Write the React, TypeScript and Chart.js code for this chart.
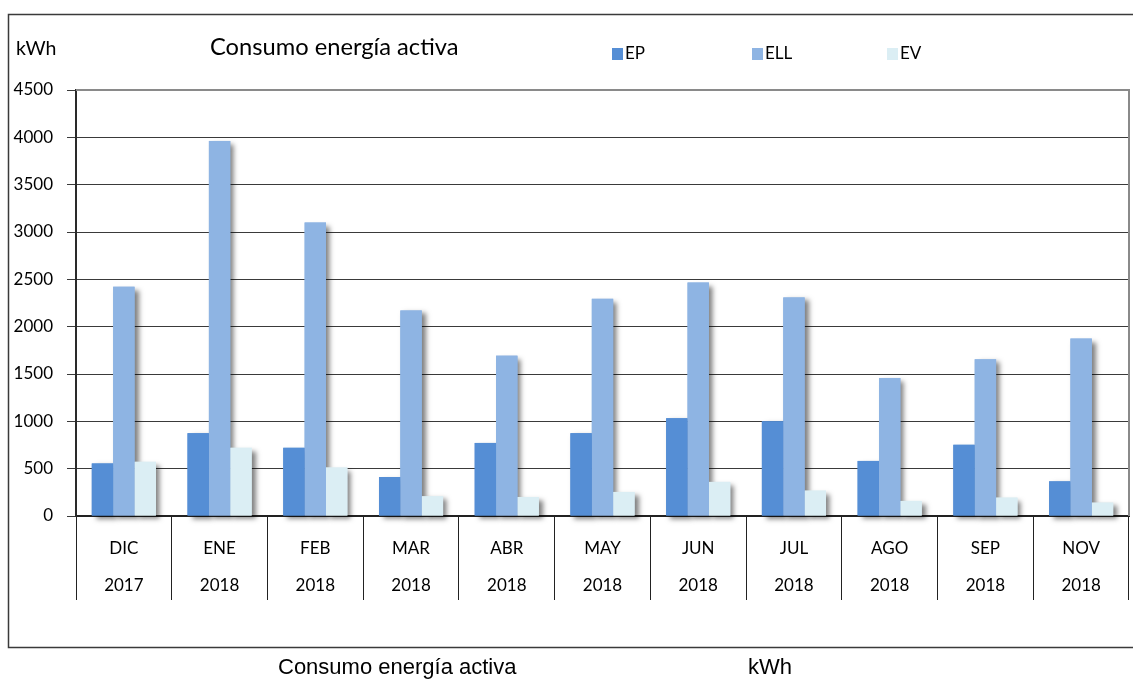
import React, { useEffect, useRef } from "react";
import { Chart, registerables } from "chart.js";

Chart.register(...registerables);

const months = ["DIC", "ENE", "FEB", "MAR", "ABR", "MAY", "JUN", "JUL", "AGO", "SEP", "NOV"];
const years = ["2017", "2018", "2018", "2018", "2018", "2018", "2018", "2018", "2018", "2018", "2018"];
const seriesNames = ["EP", "ELL", "EV"];
const epValues = [555, 875, 720, 412, 772, 875, 1033, 1000, 582, 752, 366];
const ellValues = [2422, 3962, 3100, 2171, 1694, 2294, 2466, 2309, 1458, 1655, 1874];
const evValues = [572, 720, 512, 208, 201, 254, 360, 268, 159, 194, 141];
const seriesColors = ["#558ED5", "#8EB4E3", "#DBEEF4"];
const yMax = 4500;
const yStep = 500;
const chartTitle = "Consumo energía activa";
const unitLabel = "kWh";

const CAL = "Lato, 'Noto Sans', sans-serif";

// Draw all bar shadows first, so that every bar lies above every shadow.
const shadowPlugin = {
  id: "barShadow",
  beforeDatasetsDraw(chart: any) {
    const ctx = chart.ctx;
    ctx.save();
    ctx.shadowColor = "rgba(0,0,0,0.5)";
    ctx.shadowOffsetX = 4;
    ctx.shadowOffsetY = 3;
    ctx.shadowBlur = 5;
    chart.data.datasets.forEach((ds: any, i: number) => {
      const meta = chart.getDatasetMeta(i);
      ctx.fillStyle = ds.backgroundColor;
      meta.data.forEach((el: any) => {
        const p = el.getProps(["x", "y", "base", "width"], true);
        ctx.fillRect(p.x - p.width / 2, p.y, p.width, p.base - p.y);
      });
    });
    ctx.restore();
  },
};

const decorPlugin = {
  id: "decor",
  beforeDraw(chart: any) {
    const ctx = chart.ctx;
    ctx.save();
    ctx.fillStyle = "#fff";
    ctx.fillRect(0, 0, chart.width, chart.height);
    ctx.strokeStyle = "#3a3a3a";
    ctx.lineWidth = 1.5;
    ctx.strokeRect(8.5, 14.5, 1140, 633);
    ctx.restore();
  },
  afterDraw(chart: any) {
    const ctx = chart.ctx;
    const ca = chart.chartArea;
    ctx.save();
    ctx.strokeStyle = "#8a8a8a";
    ctx.lineWidth = 2;
    ctx.beginPath();
    ctx.moveTo(ca.left, ca.top);
    ctx.lineTo(ca.right, ca.top);
    ctx.lineTo(ca.right, ca.bottom);
    ctx.stroke();

    ctx.fillStyle = "#000";
    ctx.textBaseline = "middle";
    ctx.textAlign = "left";
    ctx.font = `19.5px ${CAL}`;
    ctx.fillText(unitLabel, 16, 49);
    ctx.font = `23.7px ${CAL}`;
    ctx.fillText(chartTitle, 210, 47);

    const legendX = [612, 752, 887];
    ctx.font = `17px ${CAL}`;
    chart.data.datasets.forEach((ds: any, i: number) => {
      ctx.fillStyle = ds.backgroundColor;
      ctx.fillRect(legendX[i], 48, 11, 12);
      ctx.fillStyle = "#000";
      ctx.fillText(ds.label, legendX[i] + 13, 54);
    });

    ctx.font = "22px 'Liberation Sans', Arial, sans-serif";
    ctx.fillText(chartTitle, 278, 668);
    ctx.fillText(unitLabel, 748, 668);
    ctx.restore();
  },
};

export default function App() {
  const ref = useRef<HTMLCanvasElement | null>(null);
  useEffect(() => {
    if (!ref.current) return;
    const labels = months.map((m, i) => [m, years[i]]);
    const values = [epValues, ellValues, evValues];
    const chart = new Chart(ref.current, {
      type: "bar",
      data: {
        labels,
        datasets: seriesNames.map((name, i) => ({
          label: name,
          data: values[i],
          backgroundColor: seriesColors[i],
          borderWidth: 0,
          categoryPercentage: 0.67,
          barPercentage: 1,
        })),
      },
      options: {
        animation: false,
        responsive: false,
        maintainAspectRatio: false,
        layout: { padding: { top: 90, right: 4, left: 0, bottom: 0 } },
        plugins: {
          legend: { display: false },
          title: { display: false },
          tooltip: { enabled: false },
        },
        scales: {
          x: {
            grid: {
              offset: true,
              drawOnChartArea: false,
              drawTicks: true,
              tickLength: 84,
              color: "#222",
              lineWidth: 1,
            },
            border: { display: true, color: "#222", width: 2 },
            ticks: {
              padding: -70,
              color: "#000",
              font: { family: CAL, size: 17, lineHeight: "37px" } as any,
              maxRotation: 0,
              autoSkip: false,
            },
            afterFit: (s: any) => {
              s.height = 164;
            },
          },
          y: {
            min: 0,
            max: yMax,
            ticks: {
              stepSize: yStep,
              padding: 14,
              color: "#000",
              font: { family: CAL, size: 17 },
              callback: (v: any) => String(v),
            },
            grid: { color: "#3a3a3a", lineWidth: 1, tickLength: 9 },
            border: { display: true, color: "#2a2a2a", width: 2 },
            afterFit: (s: any) => {
              s.width = 76;
            },
          },
        },
      },
      plugins: [decorPlugin, shadowPlugin],
    });
    return () => chart.destroy();
  }, []);
  return (
    <div style={{ position: "fixed", left: 0, top: 0, width: 1133, height: 680 }}>
      <canvas ref={ref} width={1133} height={680} style={{ width: 1133, height: 680, display: "block" }} />
    </div>
  );
}
